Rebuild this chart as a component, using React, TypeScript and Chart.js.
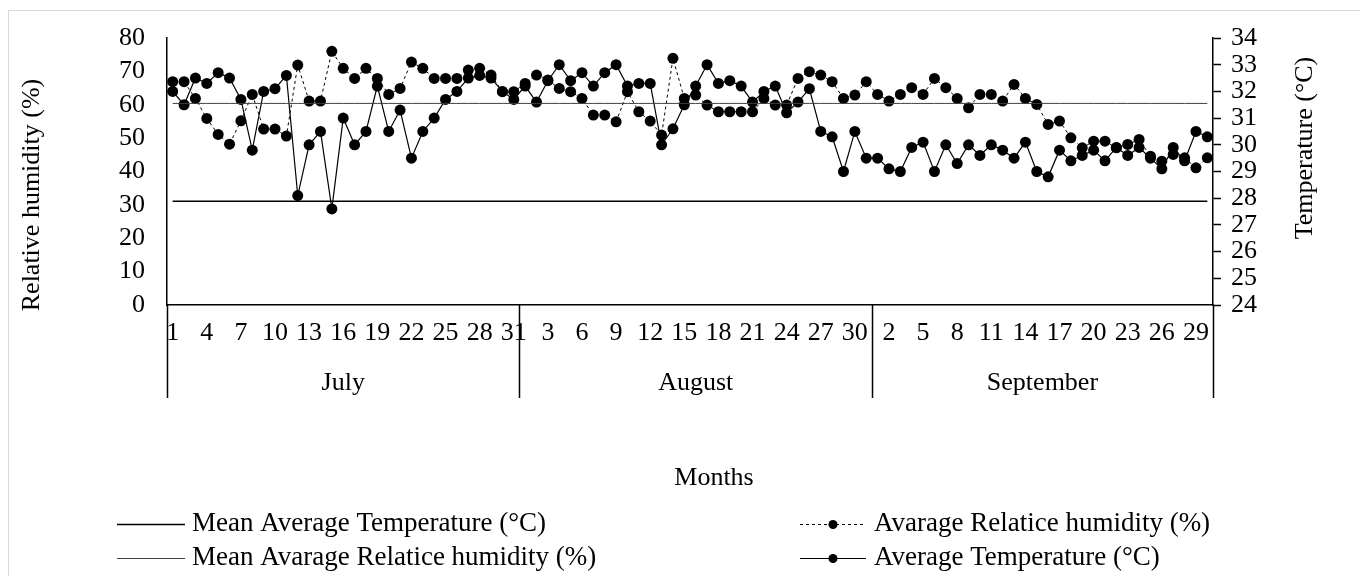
import React, { useEffect, useRef } from 'react';
import { Chart, registerables } from 'chart.js';

Chart.register(...registerables);

const FONT = '"Liberation Serif", "Times New Roman", serif';

const months = ['July', 'August', 'September'];
const monthLengths = [31, 31, 30];

const julyDays = ['1','2','3','4','5','6','7','8','9','10','11','12','13','14','15','16','17','18','19','20','21','22','23','24','25','26','27','28','29','30','31'];
const augustDays = ['1','2','3','4','5','6','7','8','9','10','11','12','13','14','15','16','17','18','19','20','21','22','23','24','25','26','27','28','29','30','31'];
const septemberDays = ['1','2','3','4','5','6','7','8','9','10','11','12','13','14','15','16','17','18','19','20','21','22','23','24','25','26','27','28','29','30'];
const dayLabels = [...julyDays, ...augustDays, ...septemberDays];

const humidity = [
  66.9, 66.9, 61.9, 55.9, 51.1, 48.2, 55.2, 63.1, 52.7, 52.7,
  50.6, 71.9, 61.1, 61.1, 76.0, 70.9, 67.9, 70.9, 67.9, 63.1,
  64.9, 72.8, 70.9, 67.9, 67.9, 67.9, 70.4, 70.9, 68.9, 63.9,
  63.9, 66.4, 68.9, 67.4, 64.9, 63.9, 61.9, 56.9, 56.9, 54.9,
  63.9, 57.9, 55.1, 50.9, 73.9, 61.9, 62.9, 59.9, 57.9, 57.9,
  57.9, 57.9, 61.9, 59.9, 59.9, 67.9, 69.9, 68.9, 66.9, 61.9,
  62.9, 66.9, 63.1, 61.1, 63.1, 65.1, 63.1, 67.9, 65.1, 61.9,
  59.1, 63.1, 63.1, 61.1, 66.1, 61.9, 60.1, 54.1, 55.1, 50.1,
  47.1, 49.1, 49.1, 47.1, 48.1, 49.6, 44.6, 43.1, 45.1, 44.1,
  41.1, 44.1,
];

const temperature = [
  32.0, 31.5, 32.5, 32.3, 32.7, 32.5, 31.7, 29.8, 32.0, 32.1,
  32.6, 28.1, 30.0, 30.5, 27.6, 31.0, 30.0, 30.5, 32.2, 30.5,
  31.3, 29.5, 30.5, 31.0, 31.7, 32.0, 32.5, 32.6, 32.5, 32.0,
  31.7, 32.2, 31.6, 32.4, 33.0, 32.4, 32.7, 32.2, 32.7, 33.0,
  32.2, 32.3, 32.3, 30.0, 30.6, 31.5, 32.2, 33.0, 32.3, 32.4,
  32.2, 31.6, 32.0, 32.2, 31.2, 31.6, 32.1, 30.5, 30.3, 29.0,
  30.5, 29.5, 29.5, 29.1, 29.0, 29.9, 30.1, 29.0, 30.0, 29.3,
  30.0, 29.6, 30.0, 29.8, 29.5, 30.1, 29.0, 28.8, 29.8, 29.4,
  29.6, 29.8, 29.4, 29.9, 29.6, 29.9, 29.5, 29.1, 29.9, 29.4,
  30.5, 30.3,
];

const meanTemperature = 31.1;
const meanHumidity = 60.4;

const humidityTicks = [0, 80, 10];
const temperatureTicks = [24, 34, 1];

const legendOrder = [0, 2, 1, 3];

const overlayPlugin = {
  id: 'overlay',
  beforeDraw(chart: any) {
    const ctx = chart.ctx;
    ctx.save();
    ctx.strokeStyle = '#d9d9d9';
    ctx.lineWidth = 1;
    ctx.strokeRect(8.5, 10.5, 1400, 700);
    ctx.restore();
  },
  afterDraw(chart: any) {
    const ctx = chart.ctx;
    const xs = chart.scales.x;
    const area = chart.chartArea;
    const half = (xs.getPixelForValue(1) - xs.getPixelForValue(0)) / 2;
    ctx.save();
    ctx.strokeStyle = '#000';
    ctx.lineWidth = 1.5;
    ctx.fillStyle = '#000';
    ctx.font = `26px ${FONT}`;
    ctx.textBaseline = 'middle';
    ctx.textAlign = 'center';

    let idx = 0;
    const edges = [xs.getPixelForValue(0) - half];
    monthLengths.forEach((n) => {
      idx += n;
      edges.push(xs.getPixelForValue(idx - 1) + half);
    });
    edges.forEach((px) => {
      ctx.beginPath();
      ctx.moveTo(Math.round(px) + 0.5, area.bottom);
      ctx.lineTo(Math.round(px) + 0.5, 398);
      ctx.stroke();
    });
    months.forEach((m, i) => {
      ctx.fillText(m, (edges[i] + edges[i + 1]) / 2, 383);
    });

    ctx.fillText('Months', 714, 478);

    ctx.save();
    ctx.translate(32, 195);
    ctx.rotate(-Math.PI / 2);
    ctx.fillText('Relative humidity (%)', 0, 0);
    ctx.restore();

    ctx.save();
    ctx.translate(1305, 148);
    ctx.rotate(-Math.PI / 2);
    ctx.fillText('Temperature (°C)', 0, 0);
    ctx.restore();

    // legend, two columns
    ctx.font = `27px ${FONT}`;
    const cols = [
      { x0: 117, x1: 185, tx: 192 },
      { x0: 800, x1: 866, tx: 874 },
    ];
    const rows = [524, 558];
    legendOrder.forEach((dsIndex, k) => {
      const ds = chart.data.datasets[dsIndex];
      const col = cols[k % 2];
      const y = rows[Math.floor(k / 2)];
      ctx.save();
      ctx.strokeStyle = ds.borderColor;
      ctx.lineWidth = ds.borderWidth;
      ctx.setLineDash(ds.borderDash || []);
      ctx.beginPath();
      ctx.moveTo(col.x0, y + 0.5);
      ctx.lineTo(col.x1, y + 0.5);
      ctx.stroke();
      ctx.setLineDash([]);
      if (ds.pointRadius > 0) {
        ctx.fillStyle = ds.pointBackgroundColor;
        ctx.beginPath();
        ctx.arc((col.x0 + col.x1) / 2, y + 0.5, 4.5, 0, Math.PI * 2);
        ctx.fill();
      }
      ctx.restore();
      ctx.textAlign = 'left';
      ctx.fillText(ds.label, col.tx, y);
    });
    ctx.restore();
  },
};

export default function App() {
  const canvasRef = useRef<HTMLCanvasElement | null>(null);

  useEffect(() => {
    if (!canvasRef.current) return;
    const n = dayLabels.length;
    const chart = new Chart(canvasRef.current, {
      type: 'line',
      data: {
        labels: dayLabels,
        datasets: [
          {
            label: 'Mean Average Temperature (°C)',
            data: new Array(n).fill(meanTemperature),
            yAxisID: 'y',
            borderColor: '#000',
            borderWidth: 1.5,
            pointRadius: 0,
            pointHoverRadius: 0,
          },
          {
            label: 'Mean Avarage Relatice humidity (%)',
            data: new Array(n).fill(meanHumidity),
            yAxisID: 'y',
            borderColor: '#404040',
            borderWidth: 1,
            pointRadius: 0,
            pointHoverRadius: 0,
          },
          {
            label: 'Avarage Relatice humidity (%)',
            data: humidity,
            yAxisID: 'y',
            borderColor: '#000',
            borderWidth: 1,
            borderDash: [3, 3],
            pointRadius: 5.5,
            pointBorderWidth: 0,
            pointBackgroundColor: '#000',
            pointBorderColor: '#000',
          },
          {
            label: 'Average Temperature (°C)',
            data: temperature,
            yAxisID: 'y1',
            borderColor: '#000',
            borderWidth: 1.2,
            pointRadius: 5.5,
            pointBorderWidth: 0,
            pointBackgroundColor: '#000',
            pointBorderColor: '#000',
          },
        ],
      },
      options: {
        responsive: false,
        animation: false,
        devicePixelRatio: 1,
        layout: { padding: { left: 0, right: 0, top: 38, bottom: 0 } },
        plugins: {
          legend: { display: false },
          tooltip: { enabled: false },
        },
        scales: {
          x: {
            type: 'category',
            offset: true,
            grid: { display: false, drawTicks: false },
            border: { display: true, color: '#000', width: 1.5 },
            ticks: {
              autoSkip: false,
              maxRotation: 0,
              minRotation: 0,
              padding: 13,
              color: '#000',
              font: { family: FONT, size: 26 },
              callback: (_v: any, index: number) => (index % 3 === 0 ? dayLabels[index] : ''),
            },
            afterFit: (s: any) => {
              s.height = 271;
            },
          },
          y: {
            position: 'left',
            min: humidityTicks[0],
            max: humidityTicks[1],
            grid: { display: false, drawTicks: false },
            border: { display: true, color: '#000', width: 1.5 },
            ticks: {
              autoSkip: false,
              stepSize: humidityTicks[2],
              padding: 22,
              color: '#000',
              font: { family: FONT, size: 26 },
            },
            afterFit: (s: any) => {
              s.width = 167;
            },
          },
          y1: {
            position: 'right',
            min: temperatureTicks[0],
            max: temperatureTicks[1],
            grid: {
              display: true,
              drawOnChartArea: false,
              drawTicks: true,
              tickLength: 8,
              tickColor: '#000',
              tickWidth: 1.5,
            },
            border: { display: true, color: '#000', width: 1.5 },
            ticks: {
              autoSkip: false,
              stepSize: temperatureTicks[2],
              padding: 10,
              color: '#000',
              font: { family: FONT, size: 26 },
            },
            afterFit: (s: any) => {
              s.width = 147;
            },
          },
        },
      },
      plugins: [overlayPlugin],
    });
    return () => chart.destroy();
  }, []);

  return (
    <div style={{ position: 'absolute', left: 0, top: 0, width: 1360, height: 576, background: '#fff', overflow: 'hidden' }}>
      <canvas ref={canvasRef} width={1360} height={576} style={{ width: 1360, height: 576, display: 'block' }} />
    </div>
  );
}
